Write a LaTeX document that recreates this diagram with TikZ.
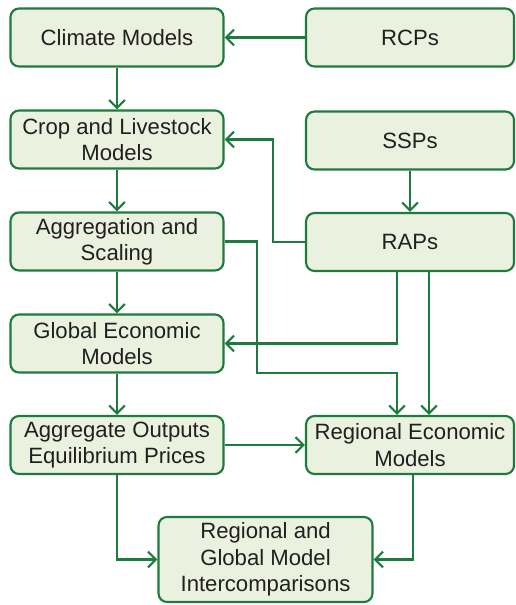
\documentclass[tikz,border=0pt]{standalone}
\usepackage{fontspec}
\setmainfont{Liberation Sans}
\usetikzlibrary{arrows.meta,positioning}

\definecolor{boxfill}{HTML}{EAF1DE}
\definecolor{boxline}{HTML}{1E7B3E}
\definecolor{txtcolor}{HTML}{231F20}

\tikzset{
  stage/.style={draw=boxline, fill=boxfill, line width=1.2pt, rounded corners=0.17cm,
    minimum width=4.26cm, minimum height=1.16cm, inner sep=1pt, align=center,
    text=txtcolor, font=\fontsize{12.6}{15}\selectfont},
  flow/.style={draw=boxline, line width=1.25pt, ->},
  >={Straight Barb[length=4.5pt,width=9pt,line width=1.25pt]}
}

\begin{document}
\begin{tikzpicture}[x=0.02cm,y=-0.02cm]

    \useasboundingbox (0,0) rectangle (516,605);

    %% left column
    \node[stage] (clim) at (117,37.5) {Climate Models};
    \node[stage] (crop) at (117,139.5) {Crop and Livestock\\Models};
    \node[stage] (agg) at (117,241.5) {Aggregation and\\Scaling};
    \node[stage] (glob) at (117,343.5) {Global Economic\\Models};
    \node[stage] (aout) at (117,445) {Aggregate Outputs\\Equilibrium Prices};

    %% right column
    \node[stage, minimum width=4.16cm] (rcp) at (410,37.5) {RCPs};
    \node[stage, minimum width=4.16cm] (ssp) at (410,140.5) {SSPs};
    \node[stage, minimum width=4.16cm] (rap) at (410,242) {RAPs};
    \node[stage, minimum width=4.16cm] (reg) at (410,445) {Regional Economic\\Models};

    %% comparison
    \node[stage, minimum width=4.28cm, minimum height=1.7cm] (cmp) at (265.5,559.5)
      {Regional and\\Global Model\\Intercomparisons};

    % connectors
    \draw[flow] (rcp) -- (clim);
    \draw[flow] (clim) -- (crop);
    \draw[flow] (crop) -- (agg);
    \draw[flow] (agg) -- (glob);
    \draw[flow] (glob) -- (aout);
    \draw[flow] (ssp) -- (rap);
    \draw[flow] (aout) -- (reg);
    \draw[flow] (rap.west) -- ++(-32,0) |- (crop.east);
    \draw[flow] (agg.east) -| (257,373) -| ([xshift=-0.26cm]reg.north);
    \draw[flow] ([xshift=-0.26cm]rap.south) |- (glob.east);
    \draw[flow] ([xshift=0.38cm]rap.south) -- ([xshift=0.38cm]reg.north);
    \draw[flow] (aout.south) |- (cmp.west);
    \draw[flow] ([xshift=0.06cm]reg.south) |- (cmp.east);
  \end{tikzpicture}
\end{document}
